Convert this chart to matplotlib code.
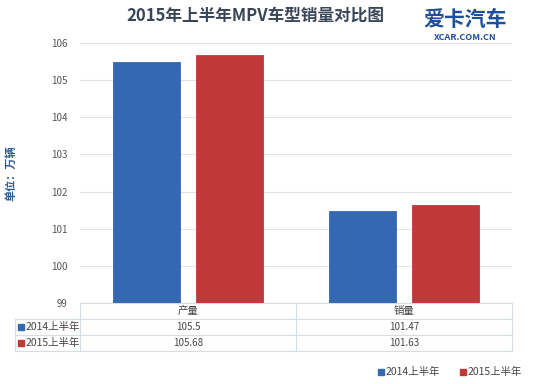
import numpy as np
import matplotlib.pyplot as plt
from matplotlib.patches import Rectangle

plt.rcParams['font.family'] = ['Noto Sans CJK SC', 'DejaVu Sans']

categories = ['产量', '销量']
series_names = ['2014上半年', '2015上半年']
values_2014 = [105.5, 101.47]
values_2015 = [105.68, 101.63]
value_labels = [['105.5', '101.47'], ['105.68', '101.63']]
colors = ['#3468b0', '#c0383a']

W, H = 550, 384
fig = plt.figure(figsize=(W / 100, H / 100), dpi=100)
fig.patch.set_facecolor('white')

left, right, top, bottom = 80, 512, 43, 303
ax = fig.add_axes([left / W, 1 - bottom / H, (right - left) / W, (bottom - top) / H])

x = np.arange(len(categories))
width = 0.31
for vals, off, c in [(values_2014, -0.19, colors[0]), (values_2015, 0.19, colors[1])]:
    ax.bar(x + off, np.array(vals) - 99, width, bottom=99, color=c,
           edgecolor=c, linewidth=0.6, zorder=3)

ax.set_ylim(99, 106)
ax.set_xlim(-0.5, 1.5)
ax.set_yticks(range(99, 107))
ax.tick_params(axis='y', length=0, labelsize=7, colors='#555555', pad=9)
ax.set_xticks([])
ax.grid(axis='y', color='#dde3ea', linewidth=0.8, zorder=0)
for s in ax.spines.values():
    s.set_visible(False)
ax.set_ylabel('单位：万辆', fontsize=8, color='#2d5a8e', fontweight='bold', labelpad=24)

# data table below the axes
row_h = 16 / (bottom - top)
tcol = '#d5dde6'
label_left = (15 - left) / (right - left)
ax.plot([label_left, 1], [-row_h, -row_h], transform=ax.transAxes, color=tcol, lw=0.8, clip_on=False)
ax.plot([label_left, 1], [-3 * row_h, -3 * row_h], transform=ax.transAxes, color=tcol, lw=0.8, clip_on=False)
ax.plot([label_left, 1], [-2 * row_h, -2 * row_h], transform=ax.transAxes, color=tcol, lw=0.8, clip_on=False)
ax.plot([0, 1], [0, 0], transform=ax.transAxes, color=tcol, lw=0.8, clip_on=False)
ax.plot([0, 0], [0, -3 * row_h], transform=ax.transAxes, color=tcol, lw=0.8, clip_on=False)
ax.plot([1, 1], [0, -3 * row_h], transform=ax.transAxes, color=tcol, lw=0.8, clip_on=False)
ax.plot([label_left, label_left], [-row_h, -3 * row_h], transform=ax.transAxes, color=tcol, lw=0.8, clip_on=False)
ax.plot([0.5, 0.5], [0, -3 * row_h], transform=ax.transAxes, color=tcol, lw=0.8, clip_on=False)

for i, cat in enumerate(categories):
    cx = (i + 0.5) / len(categories)
    ax.text(cx, -0.5 * row_h, cat, transform=ax.transAxes, ha='center', va='center',
            fontsize=7.5, color='#444444')
    for r in range(2):
        ax.text(cx, -(1.5 + r) * row_h, value_labels[r][i], transform=ax.transAxes,
                ha='center', va='center', fontsize=7, color='#444444')
for r, name in enumerate(series_names):
    yy = -(1.5 + r) * row_h
    ax.add_patch(Rectangle((label_left + 0.008, yy - 0.01), 0.013, 0.02,
                           transform=ax.transAxes, color=colors[r], clip_on=False))
    ax.text(label_left + 0.025, yy, name, transform=ax.transAxes, ha='left', va='center',
            fontsize=7.5, color='#444444')

# legend
for r, name in enumerate(series_names):
    lx = 378 + r * 82
    fig.patches.append(Rectangle((lx / W, 1 - 375 / H), 6 / W, 6 / H,
                                 transform=fig.transFigure, color=colors[r]))
    fig.text((lx + 8) / W, 1 - 372 / H, name, ha='left', va='center',
             fontsize=7.5, color='#444444')

fig.text(255 / W, 1 - 16 / H, '2015年上半年MPV车型销量对比图', ha='center', va='center',
         fontsize=12, fontweight='bold', color='#3a4658')
fig.text(465 / W, 1 - 20 / H, '爱卡汽车', ha='center', va='center',
         fontsize=15, fontweight='black', color='#1f4f96')
fig.text(465 / W, 1 - 38 / H, 'XCAR.COM.CN', ha='center', va='center',
         fontsize=6.5, fontweight='bold', color='#1f4f96')

fig.savefig('out.png', dpi=100)
